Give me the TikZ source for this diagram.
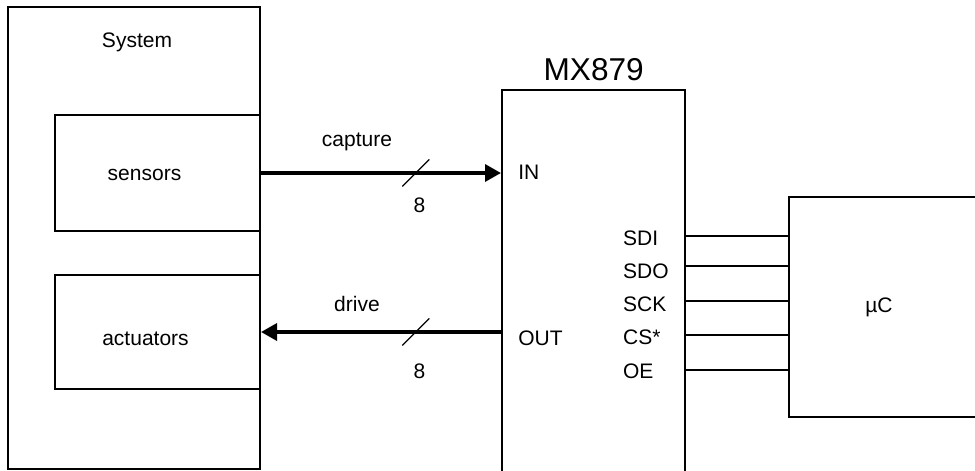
\documentclass[tikz,border=0pt]{standalone}
\usepackage{fontspec}
\setmainfont{Liberation Sans}
\usetikzlibrary{arrows.meta}
\tikzset{
  box/.style={draw, line width=1pt, inner sep=0pt},
  bus/.style={line width=1.7pt, -{Triangle[length=8pt,width=8.5pt]}},
  pin/.style={line width=0.85pt},
  slash/.style={line width=0.65pt},
  lbl/.style={inner sep=0pt, anchor=base, font=\fontsize{10.5}{12}\selectfont},
  big/.style={lbl, font=\fontsize{15.8}{18}\selectfont},
}
\begin{document}
\begin{tikzpicture}[x=0.5pt, y=-0.5pt]
  \useasboundingbox (0,0) rectangle (975,471);
  \clip (0,0) rectangle (975,471);
  % system and its parts
  \node[box, minimum width=126pt, minimum height=231pt] (system) at (134,238) {};
  \node[lbl] (systitle) at (137,47) {System};
  \node[box, minimum width=102.5pt, minimum height=58pt] (sensors) at (157.5,173) {};
  \node[lbl] (senstext) at (144.5,180) {sensors};
  \node[box, minimum width=102.5pt, minimum height=57pt] (actuators) at (157.5,332) {};
  \node[lbl] (acttext) at (145.5,345) {actuators};
  % the chip
  \node[box, minimum width=91.5pt, minimum height=215pt] (mx) at (593.5,305) {};
  \node[big] (mxtitle) at (593.7,80) {MX879};
  \node[lbl, anchor=base west] (in) at (518,179.3) {IN};
  \node[lbl, anchor=base west] (out) at (518,345) {OUT};
  \foreach \name [count=\i from 0] in {SDI,SDO,SCK,CS*,OE}
    \node[lbl, anchor=base west] (pin\i) at (622.7,245+33.3*\i) {\name};
  % microcontroller
  \node[box, minimum width=110pt, minimum height=110pt] (uc) at (899,307) {};
  \node[lbl] (uctext) at (879,312.7) {µC};
  % buses
  \draw[bus] (sensors.east) -- (mx.west |- sensors.east) coordinate[pos=0.645] (capmid);
  \draw[slash] ([shift={(-13.5,13.5)}]capmid) -- ([shift={(13.5,-13.5)}]capmid);
  \node[lbl] (captext) at (357,146) {capture};
  \node[lbl] (capwidth) at (419.5,212.7) {8};
  \draw[bus] (mx.west |- actuators.east) -- (actuators.east) coordinate[pos=0.355] (drvmid);
  \draw[slash] ([shift={(-13.5,13.5)}]drvmid) -- ([shift={(13.5,-13.5)}]drvmid);
  \node[lbl] (drvtext) at (357,311.7) {drive};
  \node[lbl] (drvwidth) at (419.5,378) {8};
  % serial lines
  \foreach \y in {236,266,301,335,370}
    \draw[pin] (mx.east |- 0,\y) -- (uc.west |- 0,\y);
\end{tikzpicture}
\end{document}
